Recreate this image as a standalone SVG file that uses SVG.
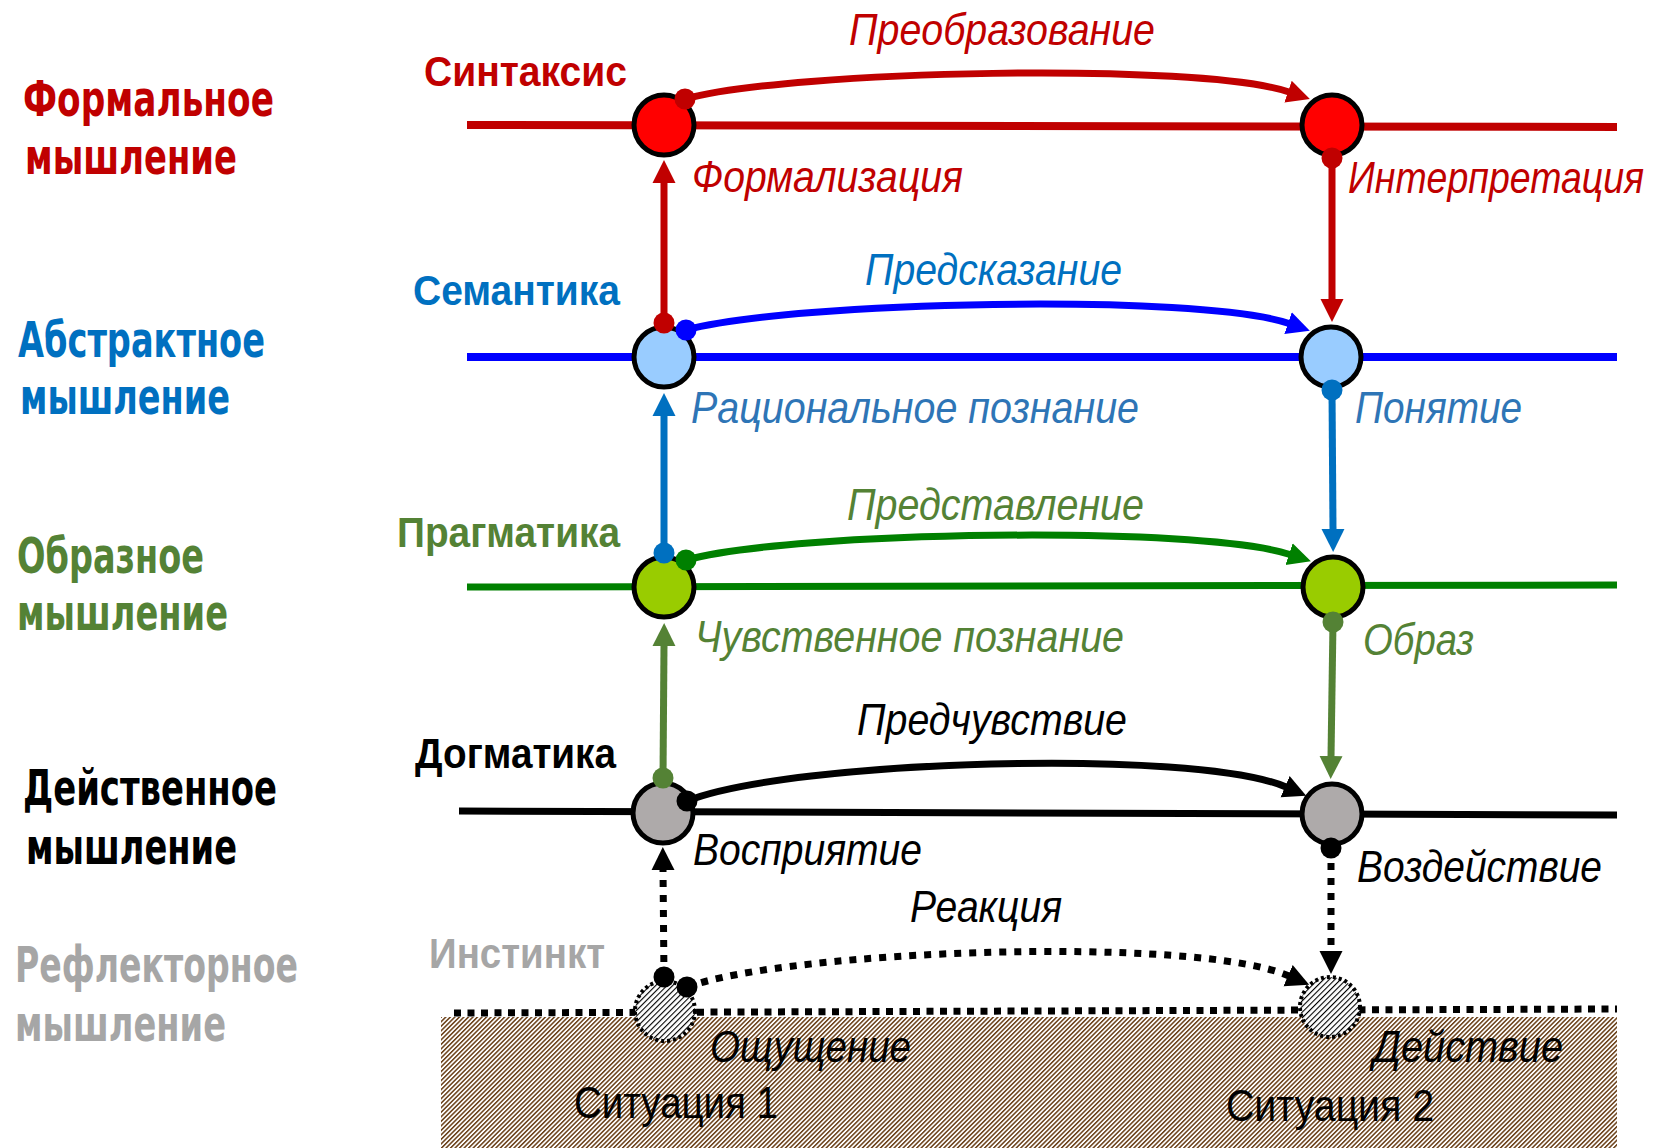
<svg xmlns="http://www.w3.org/2000/svg" width="1675" height="1148" viewBox="0 0 1675 1148">
  <style>
    .lvl { font-family: "DejaVu Sans", "Liberation Sans", Arial, sans-serif; font-weight: bold; font-size: 50px; }
    .sec { font-family: "Liberation Sans Narrow", "Liberation Sans", Arial, sans-serif; font-weight: bold; font-size: 42px; }
    .lab { font-family: "Liberation Sans Narrow", "Liberation Sans", Arial, sans-serif; font-style: italic; font-size: 45px; }
    .sit { font-family: "Liberation Sans Narrow", "Liberation Sans", Arial, sans-serif; font-size: 45px; }
    .cRed { fill: #C00000; }
    .cBlue { fill: #0070C0; }
    .cSteel { fill: #2E75B6; }
    .cGreen { fill: #548235; }
    .cBlack { fill: #000000; }
    .cGray { fill: #A6A6A6; }
    .node { stroke: #000; stroke-width: 5; }
    .ghost { fill: url(#hatchDense); stroke: #000; stroke-width: 4; stroke-dasharray: 3 3; }
    .conn { fill: none; stroke-width: 7; }
    .dotted { stroke-dasharray: 7 8; }
  </style>
  <defs>
    <pattern id="earth" width="3.2" height="3.2" patternUnits="userSpaceOnUse" patternTransform="rotate(-45)">
      <rect width="3.2" height="3.2" fill="#ffffff"/>
      <rect width="3.2" height="1.5" fill="#6A3F18"/>
    </pattern>
    <pattern id="hatchDense" width="4" height="4" patternUnits="userSpaceOnUse" patternTransform="rotate(-45)">
      <rect width="4" height="4" fill="#ffffff"/>
      <rect width="4" height="1.1" fill="#000000"/>
    </pattern>
    <!-- arrowheads: path ends at the base, the triangle extends forward -->
    <marker id="arrRed" markerUnits="userSpaceOnUse" viewBox="0 -12 23 24" refX="1" refY="0" markerWidth="23" markerHeight="24" orient="auto"><path d="M0,-11.5L23,0L0,11.5z" fill="#C00000"/></marker>
    <marker id="arrBlue" markerUnits="userSpaceOnUse" viewBox="0 -12 23 24" refX="1" refY="0" markerWidth="23" markerHeight="24" orient="auto"><path d="M0,-11.5L23,0L0,11.5z" fill="#0000FF"/></marker>
    <marker id="arrBlueV" markerUnits="userSpaceOnUse" viewBox="0 -12 23 24" refX="1" refY="0" markerWidth="23" markerHeight="24" orient="auto"><path d="M0,-11.5L23,0L0,11.5z" fill="#0070C0"/></marker>
    <marker id="arrGreen" markerUnits="userSpaceOnUse" viewBox="0 -12 23 24" refX="1" refY="0" markerWidth="23" markerHeight="24" orient="auto"><path d="M0,-11.5L23,0L0,11.5z" fill="#008000"/></marker>
    <marker id="arrGreenV" markerUnits="userSpaceOnUse" viewBox="0 -12 23 24" refX="1" refY="0" markerWidth="23" markerHeight="24" orient="auto"><path d="M0,-11.5L23,0L0,11.5z" fill="#548235"/></marker>
    <marker id="arrBlack" markerUnits="userSpaceOnUse" viewBox="0 -12 23 24" refX="1" refY="0" markerWidth="23" markerHeight="24" orient="auto"><path d="M0,-11.5L23,0L0,11.5z" fill="#000000"/></marker>
    <!-- round tails -->
    <marker id="dotRed" markerUnits="userSpaceOnUse" viewBox="-11 -11 22 22" refX="0" refY="0" markerWidth="22" markerHeight="22"><circle r="10.5" fill="#C00000"/></marker>
    <marker id="dotBlue" markerUnits="userSpaceOnUse" viewBox="-11 -11 22 22" refX="0" refY="0" markerWidth="22" markerHeight="22"><circle r="10.5" fill="#0000FF"/></marker>
    <marker id="dotBlueV" markerUnits="userSpaceOnUse" viewBox="-11 -11 22 22" refX="0" refY="0" markerWidth="22" markerHeight="22"><circle r="10.5" fill="#0070C0"/></marker>
    <marker id="dotGreen" markerUnits="userSpaceOnUse" viewBox="-11 -11 22 22" refX="0" refY="0" markerWidth="22" markerHeight="22"><circle r="10.5" fill="#008000"/></marker>
    <marker id="dotGreenV" markerUnits="userSpaceOnUse" viewBox="-11 -11 22 22" refX="0" refY="0" markerWidth="22" markerHeight="22"><circle r="10.5" fill="#548235"/></marker>
    <marker id="dotBlack" markerUnits="userSpaceOnUse" viewBox="-11 -11 22 22" refX="0" refY="0" markerWidth="22" markerHeight="22"><circle r="10.5" fill="#000000"/></marker>
  </defs>

  <rect width="1675" height="1148" fill="#ffffff"/>

  <!-- ground -->
  <g id="ground">
    <rect x="441" y="1017" width="1176" height="131" fill="url(#earth)"/>
    <line x1="454" y1="1013" x2="1617" y2="1009" stroke="#000" stroke-width="7" stroke-dasharray="7 6.5"/>
  </g>

  <!-- level lines -->
  <g id="levels" fill="none">
    <line x1="467" y1="125" x2="1617" y2="127" stroke="#C00000" stroke-width="8"/>
    <line x1="467" y1="357" x2="1617" y2="357" stroke="#0000FF" stroke-width="8"/>
    <line x1="467" y1="587" x2="1617" y2="585" stroke="#008000" stroke-width="7"/>
    <line x1="459" y1="811" x2="1617" y2="815" stroke="#000000" stroke-width="7"/>
  </g>

  <!-- left column: thinking levels -->
  <g id="label-formal">
    <text class="lvl cRed" x="23" y="116" textLength="251" lengthAdjust="spacingAndGlyphs">Формальное</text>
    <text class="lvl cRed" x="25" y="174" textLength="212" lengthAdjust="spacingAndGlyphs">мышление</text>
  </g>
  <g id="label-abstract">
    <text class="lvl cBlue" x="18" y="357" textLength="247" lengthAdjust="spacingAndGlyphs">Абстрактное</text>
    <text class="lvl cBlue" x="20" y="414" textLength="210" lengthAdjust="spacingAndGlyphs">мышление</text>
  </g>
  <g id="label-figurative">
    <text class="lvl cGreen" x="17" y="573" textLength="187" lengthAdjust="spacingAndGlyphs">Образное</text>
    <text class="lvl cGreen" x="17" y="630" textLength="211" lengthAdjust="spacingAndGlyphs">мышление</text>
  </g>
  <g id="label-active">
    <text class="lvl cBlack" x="23" y="805" textLength="254" lengthAdjust="spacingAndGlyphs">Действенное</text>
    <text class="lvl cBlack" x="26" y="864" textLength="211" lengthAdjust="spacingAndGlyphs">мышление</text>
  </g>
  <g id="label-reflex">
    <text class="lvl cGray" x="15" y="982" textLength="283" lengthAdjust="spacingAndGlyphs">Рефлекторное</text>
    <text class="lvl cGray" x="15" y="1041" textLength="211" lengthAdjust="spacingAndGlyphs">мышление</text>
  </g>

  <!-- level titles -->
  <g id="titles">
    <text class="sec cRed" x="424" y="86" textLength="203" lengthAdjust="spacingAndGlyphs">Синтаксис</text>
    <text class="sec cBlue" x="413" y="305" textLength="207" lengthAdjust="spacingAndGlyphs">Семантика</text>
    <text class="sec cGreen" x="397" y="547" textLength="223" lengthAdjust="spacingAndGlyphs">Прагматика</text>
    <text class="sec cBlack" x="415" y="768" textLength="201" lengthAdjust="spacingAndGlyphs">Догматика</text>
    <text class="sec cGray" x="429" y="968" textLength="176" lengthAdjust="spacingAndGlyphs">Инстинкт</text>
  </g>

  <!-- nodes -->
  <g id="node-syntax-1"><circle class="node" cx="664" cy="125" r="30" fill="#FF0000"/></g>
  <g id="node-syntax-2"><circle class="node" cx="1332" cy="125" r="30" fill="#FF0000"/></g>
  <g id="node-semantics-1"><circle class="node" cx="664" cy="357" r="30" fill="#99CCFF"/></g>
  <g id="node-semantics-2"><circle class="node" cx="1331" cy="357" r="30" fill="#99CCFF"/></g>
  <g id="node-pragmatics-1"><circle class="node" cx="664" cy="587" r="30" fill="#99CC00"/></g>
  <g id="node-pragmatics-2"><circle class="node" cx="1333" cy="587" r="30" fill="#99CC00"/></g>
  <g id="node-dogmatics-1"><circle class="node" cx="663" cy="813" r="30" fill="#AEAAAA"/></g>
  <g id="node-dogmatics-2"><circle class="node" cx="1332" cy="814" r="30" fill="#AEAAAA"/></g>
  <g id="node-situation-1"><circle class="ghost" cx="665" cy="1011" r="30"/></g>
  <g id="node-situation-2"><circle class="ghost" cx="1330" cy="1007" r="30"/></g>

  <!-- connectors -->
  <g id="connectors">
    <!-- horizontal transitions -->
    <path class="conn" stroke="#C00000" d="M685,99 C790,70 1200,62 1289,92" marker-start="url(#dotRed)" marker-end="url(#arrRed)"/>
    <path class="conn" stroke="#0000FF" d="M686,330 C791,301 1200,293 1289,323.5" marker-start="url(#dotBlue)" marker-end="url(#arrBlue)"/>
    <path class="conn" stroke="#008000" d="M686,560 C791,531 1200,525 1290,554.5" marker-start="url(#dotGreen)" marker-end="url(#arrGreen)"/>
    <path class="conn" stroke="#000000" d="M687,801 C790,760 1195,748 1286,787" marker-start="url(#dotBlack)" marker-end="url(#arrBlack)"/>
    <path class="conn dotted" stroke="#000000" d="M687,987 C790,950 1195,935 1289,976" marker-start="url(#dotBlack)" marker-end="url(#arrBlack)"/>
    <!-- ascending column -->
    <path class="conn" stroke="#C00000" d="M664,323 L664,182" marker-start="url(#dotRed)" marker-end="url(#arrRed)"/>
    <path class="conn" stroke="#0070C0" d="M664,553 L664,415" marker-start="url(#dotBlueV)" marker-end="url(#arrBlueV)"/>
    <path class="conn" stroke="#548235" d="M663,778 L664,645" marker-start="url(#dotGreenV)" marker-end="url(#arrGreenV)"/>
    <path class="conn dotted" stroke="#000000" d="M664,977 L663,869" marker-start="url(#dotBlack)" marker-end="url(#arrBlack)"/>
    <!-- descending column -->
    <path class="conn" stroke="#C00000" d="M1332,158 L1332,300" marker-start="url(#dotRed)" marker-end="url(#arrRed)"/>
    <path class="conn" stroke="#0070C0" d="M1332,390 L1333,530" marker-start="url(#dotBlueV)" marker-end="url(#arrBlueV)"/>
    <path class="conn" stroke="#548235" d="M1333,622 L1331,757" marker-start="url(#dotGreenV)" marker-end="url(#arrGreenV)"/>
    <path class="conn dotted" stroke="#000000" d="M1331,848 L1331,952" marker-start="url(#dotBlack)" marker-end="url(#arrBlack)"/>
  </g>

  <!-- transition labels -->
  <g id="labels">
    <text class="lab cRed" x="849" y="45" textLength="306" lengthAdjust="spacingAndGlyphs">Преобразование</text>
    <text class="lab cRed" x="692" y="192" textLength="271" lengthAdjust="spacingAndGlyphs">Формализация</text>
    <text class="lab cRed" x="1348" y="193" font-size="42" textLength="296" lengthAdjust="spacingAndGlyphs">Интерпретация</text>
    <text class="lab cBlue" x="865" y="285" textLength="257" lengthAdjust="spacingAndGlyphs">Предсказание</text>
    <text class="lab cSteel" x="691" y="423" textLength="448" lengthAdjust="spacingAndGlyphs">Рациональное познание</text>
    <text class="lab cSteel" x="1355" y="423" textLength="167" lengthAdjust="spacingAndGlyphs">Понятие</text>
    <text class="lab cGreen" x="847" y="520" textLength="297" lengthAdjust="spacingAndGlyphs">Представление</text>
    <text class="lab cGreen" x="695" y="652" textLength="429" lengthAdjust="spacingAndGlyphs">Чувственное познание</text>
    <text class="lab cGreen" x="1363" y="655" textLength="111" lengthAdjust="spacingAndGlyphs">Образ</text>
    <text class="lab cBlack" x="857" y="735" textLength="270" lengthAdjust="spacingAndGlyphs">Предчувствие</text>
    <text class="lab cBlack" x="693" y="865" textLength="229" lengthAdjust="spacingAndGlyphs">Восприятие</text>
    <text class="lab cBlack" x="1357" y="882" textLength="245" lengthAdjust="spacingAndGlyphs">Воздействие</text>
    <text class="lab cBlack" x="910" y="922" textLength="152" lengthAdjust="spacingAndGlyphs">Реакция</text>
    <text class="lab cBlack" x="710" y="1062" textLength="201" lengthAdjust="spacingAndGlyphs">Ощущение</text>
    <text class="lab cBlack" x="1373" y="1062" textLength="190" lengthAdjust="spacingAndGlyphs">Действие</text>
    <text class="sit cBlack" x="574" y="1118" textLength="204" lengthAdjust="spacingAndGlyphs">Ситуация 1</text>
    <text class="sit cBlack" x="1226" y="1121" textLength="208" lengthAdjust="spacingAndGlyphs">Ситуация 2</text>
  </g>
</svg>
